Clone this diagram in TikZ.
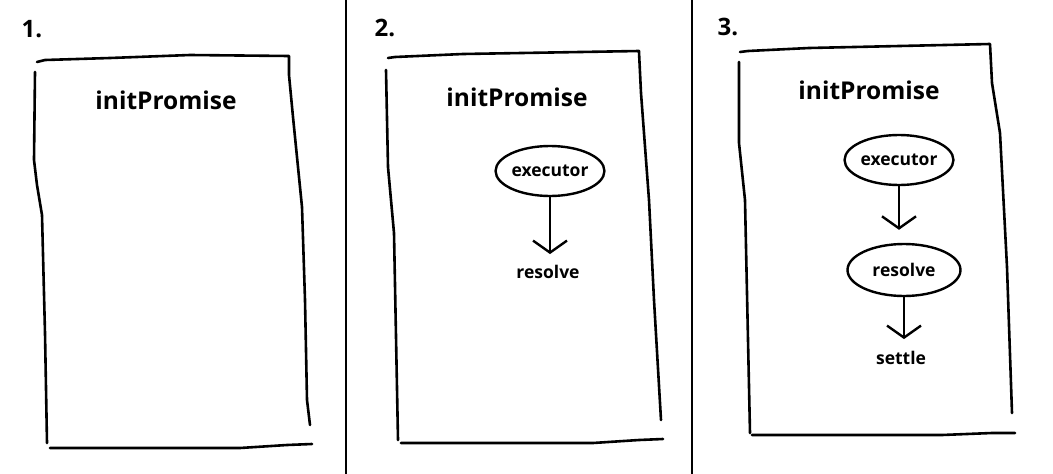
\documentclass[tikz,border=0pt]{standalone}
\usepackage{fontspec}
\setmainfont{Open Sans}
\usetikzlibrary{arrows.meta,positioning,shapes.geometric}

\begin{document}
\begin{tikzpicture}[x=1pt, y=-1pt,
    frame/.style={line width=2.6pt, line cap=round, line join=round},
    num/.style={font=\fontsize{24}{28}\selectfont\bfseries},
    title/.style={font=\fontsize{24.5}{28}\selectfont\bfseries},
    call/.style={font=\fontsize{17.5}{20}\selectfont\bfseries, inner sep=1pt},
    blob/.style={call, draw, ellipse, line width=2.4pt, inner sep=0pt},
    flow/.style={line width=2.4pt, line cap=round, -{Straight Barb[length=12pt, width=34pt, line width=2.4pt]}}]
  \fill[white] (0,0) rectangle (1053,474);
  \useasboundingbox (0,0) rectangle (1053,474);

  \draw[frame] (346,0) -- (346,474);
  \draw[frame] (692,0) -- (692,474);

  % panel 1
  \node (n1) [num] at (32,29) {1.};
  \draw[frame] (37,62) -- (45,60) -- (110,58) -- (190,55) -- (289,56) -- (289,75) -- (293,117) -- (302,207) -- (305,300) -- (307,400) -- (310,425);
  \draw[frame] (35,72) -- (34,160) -- (37,185) -- (42,215) -- (45,333) -- (47,443);
  \draw[frame] (50,448) -- (240,448) -- (287,445) -- (312,444);
  \node (init1) [title] at (166,100) {initPromise};

  % panel 2
  \node (n2) [num] at (385,28) {2.};
  \draw[frame] (388,58) -- (395,57) -- (463,54) -- (639,51) -- (639,52) -- (641,93) -- (649,200) -- (654,300) -- (661,420);
  \draw[frame] (386,70) -- (388,167) -- (394,233) -- (398,440);
  \draw[frame] (401,443) -- (593,443) -- (639,440) -- (663,439);
  \node (init2) [title] at (517,97) {initPromise};
  \node (exec2) [blob, minimum width=105pt, minimum height=50pt] at (550,171) {executor};
  \node (res2) [call] at (548,272) {resolve};
  \draw[flow, shorten >=10pt] (exec2.south) -- (exec2.south |- res2.north);

  % panel 3
  \node (n3) [num] at (728,27) {3.};
  \draw[frame] (740,52) -- (748,51) -- (809,48) -- (990,44) -- (992,83) -- (1000,133) -- (1007,267) -- (1012,413);
  \draw[frame] (739,62) -- (739,143) -- (745,200) -- (750,433);
  \draw[frame] (752,435) -- (942,435) -- (992,433) -- (1015,433);
  \node (init3) [title] at (869,90) {initPromise};
  \node (exec3) [blob, minimum width=103pt, minimum height=50pt] at (899,160) {executor};
  \node (res3) [blob, minimum width=113pt, minimum height=52pt] at (904,270) {resolve};
  \node (settle3) [call] at (901,358) {settle};
  \draw[flow, shorten >=13pt] (exec3.south) -- (exec3.south |- res3.north);
  \draw[flow, shorten >=11pt] (res3.south) -- (res3.south |- settle3.north);
\end{tikzpicture}
\end{document}
